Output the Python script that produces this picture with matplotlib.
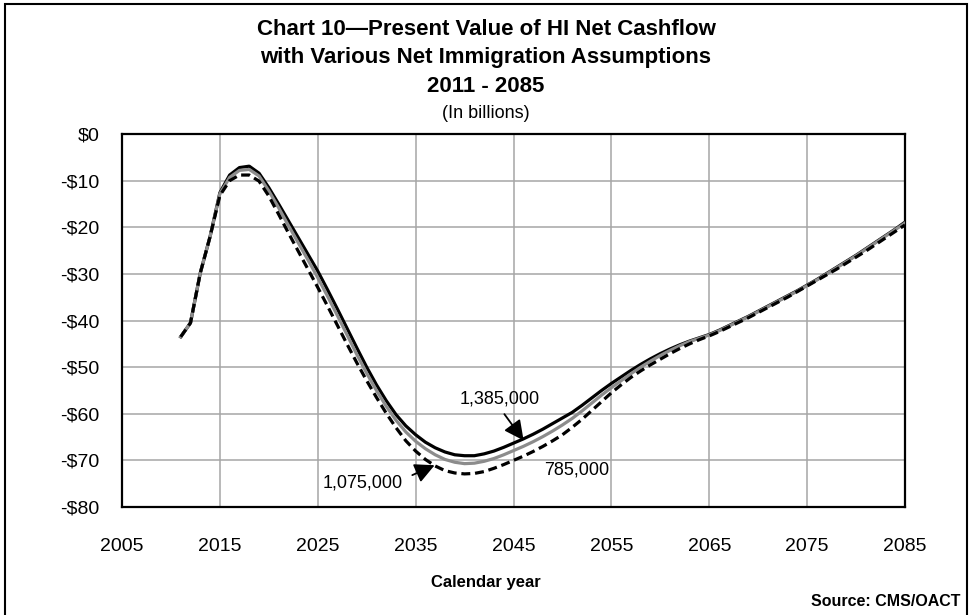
import matplotlib.pyplot as plt
from matplotlib.patches import Rectangle

plt.rcParams['font.family'] = ['Liberation Sans', 'DejaVu Sans']

# Anni di proiezione e valore attuale del cashflow netto HI (miliardi di $)
anni = list(range(2011, 2086))

cashflow_1385 = [
    -43.5, -40.5, -29.8, -22.0, -12.6, -8.8, -7.2, -6.9, -8.4, -11.5,
    -15.0, -18.6, -22.2, -25.8, -29.4, -33.4, -37.5, -41.7, -45.9, -50.0,
    -53.8, -57.2, -60.2, -62.6, -64.5, -66.1, -67.3, -68.2, -68.8, -69.0,
    -69.0, -68.6, -68.0, -67.2, -66.3, -65.4, -64.4, -63.3, -62.1, -60.9,
    -59.7, -58.2, -56.6, -55.0, -53.5, -52.1, -50.7, -49.4, -48.2, -47.1,
    -46.1, -45.2, -44.4, -43.7, -43.0, -42.1, -41.1, -40.1, -39.1, -38.0,
    -36.9, -35.8, -34.7, -33.6, -32.4, -31.2, -29.9, -28.6, -27.3, -26.0,
    -24.6, -23.2, -21.8, -20.4, -18.9,
]

cashflow_1075 = [
    -43.5, -40.5, -29.8, -22.0, -12.8, -9.3, -7.8, -7.6, -9.0, -12.2,
    -15.8, -19.6, -23.3, -27.0, -30.8, -34.8, -38.9, -43.1, -47.3, -51.3,
    -55.0, -58.4, -61.4, -63.9, -65.9, -67.5, -68.8, -69.8, -70.4, -70.7,
    -70.6, -70.2, -69.6, -68.8, -67.9, -67.0, -66.0, -64.9, -63.7, -62.4,
    -61.0, -59.4, -57.7, -56.0, -54.4, -52.9, -51.4, -50.0, -48.7, -47.5,
    -46.4, -45.4, -44.5, -43.8, -43.1, -42.2, -41.2, -40.2, -39.2, -38.1,
    -37.0, -35.9, -34.8, -33.7, -32.5, -31.3, -30.0, -28.7, -27.4, -26.1,
    -24.7, -23.3, -21.9, -20.5, -19.1,
]

cashflow_785 = [
    -43.5, -40.5, -29.8, -22.0, -13.2, -10.0, -8.8, -8.8, -10.1, -13.3,
    -17.2, -21.2, -25.1, -29.0, -32.9, -36.9, -41.0, -45.1, -49.1, -52.9,
    -56.5, -59.9, -63.0, -65.8, -68.0, -69.8, -71.2, -72.2, -72.7, -72.9,
    -72.8, -72.4, -71.7, -70.9, -70.0, -69.1, -68.1, -67.0, -65.8, -64.5,
    -62.9, -61.2, -59.3, -57.4, -55.5, -53.8, -52.2, -50.8, -49.5, -48.3,
    -47.1, -46.0, -45.0, -44.1, -43.3, -42.4, -41.4, -40.4, -39.4, -38.3,
    -37.2, -36.1, -35.0, -33.8, -32.6, -31.4, -30.2, -29.0, -27.7, -26.4,
    -25.1, -23.7, -22.3, -20.9, -19.5,
]

tick_anni = list(range(2005, 2086, 10))
tick_valori = list(range(-80, 1, 10))
etichette_valori = ["-$80", "-$70", "-$60", "-$50", "-$40", "-$30", "-$20", "-$10", "$0"]

fig = plt.figure(figsize=(9.72, 6.15), dpi=100)
ax = fig.add_axes([0.1255, 0.1756, 0.8056, 0.6065])

# tre scenari di immigrazione netta
stile = dict(lw=2.3, solid_joinstyle="round", dash_joinstyle="round")
ax.plot(anni, cashflow_1385, color="black", zorder=3, **stile)
ax.plot(anni, cashflow_1075, color="#8c8c8c", zorder=4, **stile)
ax.plot(anni, cashflow_785, color="black", dashes=(2.8, 1.5), zorder=5, **stile)

ax.set_xlim(2005, 2085)
ax.set_ylim(-80, 0)
ax.set_xticks(tick_anni)
ax.set_yticks(tick_valori)
ax.set_yticklabels(etichette_valori)
ax.tick_params(length=0, labelsize=14)
ax.tick_params(axis="x", pad=22)
ax.tick_params(axis="y", pad=16)
ax.grid(True, color="#a6a6a6", lw=1.1)
ax.set_axisbelow(True)
for s in ax.spines.values():
    s.set_linewidth(1.6)
    s.set_color("black")

# etichette degli scenari
freccia = dict(arrowstyle="-|>", color="black", lw=1.3, mutation_scale=30)
ax.text(2043.6, -56.9, "1,385,000", fontsize=13, ha="center", va="center")
ax.annotate("", xy=(2046.2, -66.2), xytext=(2043.9, -59.6), arrowprops=freccia)
ax.text(2029.6, -74.9, "1,075,000", fontsize=13, ha="center", va="center")
ax.annotate("", xy=(2037.2, -70.8), xytext=(2034.4, -73.4), arrowprops=freccia)
ax.text(2051.5, -72.1, "785,000", fontsize=13, ha="center", va="center")

# titolo su piu' righe
fig.text(0.5, 1 - 35 / 615, "Chart 10\u2014Present Value of HI Net Cashflow",
         fontsize=16, weight="bold", ha="center", va="baseline")
fig.text(0.5, 1 - 63 / 615, "with Various Net Immigration Assumptions",
         fontsize=16, weight="bold", ha="center", va="baseline")
fig.text(0.5, 1 - 92 / 615, "2011 - 2085",
         fontsize=16, weight="bold", ha="center", va="baseline")
fig.text(0.5, 1 - 118 / 615, "(In billions)", fontsize=13, ha="center", va="baseline")

fig.text(0.5, 1 - 582 / 615, "Calendar year", fontsize=12, weight="bold",
         ha="center", va="center")
fig.text(960 / 972, 1 - 602 / 615, "Source: CMS/OACT", fontsize=11.5, weight="bold",
         ha="right", va="center")

# cornice esterna
fig.patches.append(Rectangle((5 / 972, -0.05), 962 / 972, 1.05 - 4 / 615,
                             transform=fig.transFigure, fill=False,
                             edgecolor="black", lw=1.5))

fig.savefig("out.png", dpi=100)
